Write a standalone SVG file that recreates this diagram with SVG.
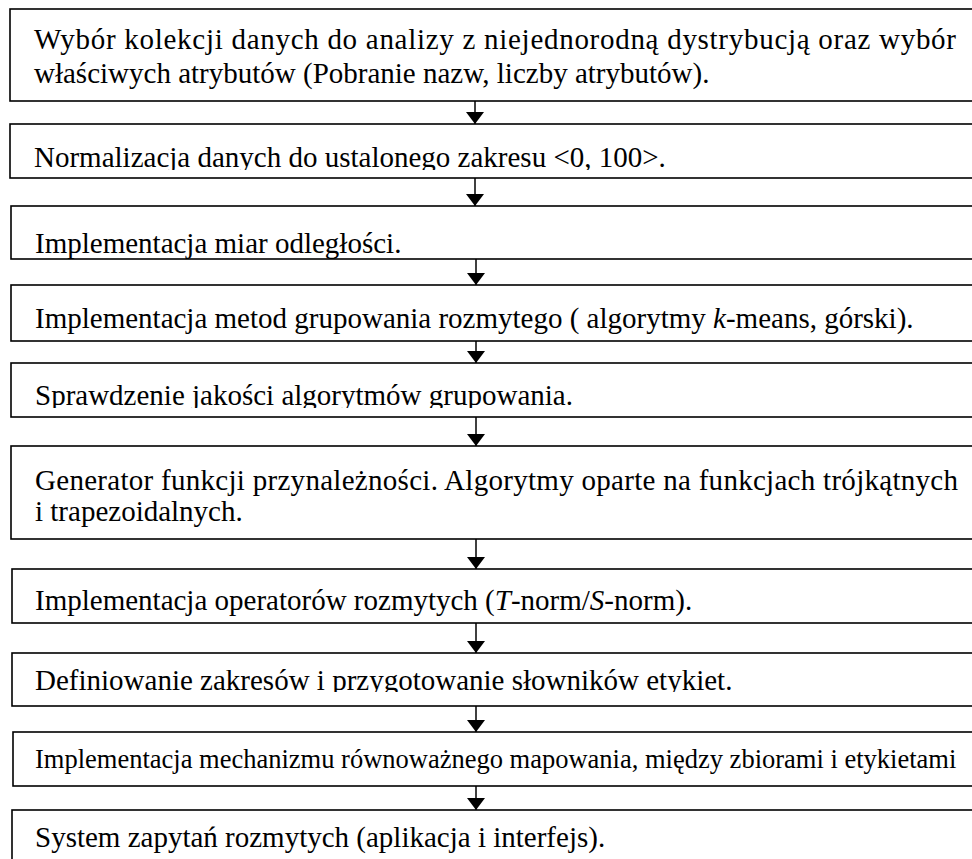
<svg xmlns="http://www.w3.org/2000/svg" width="972" height="859" viewBox="0 0 972 859">
<style>
.box{fill:#fff;stroke:#000;stroke-width:1.6}
.t{font-family:"Liberation Serif","Times New Roman",serif;font-size:29px;fill:#000}
.s{font-size:26.5px}
.i{font-style:italic}
.conn line{stroke:#000;stroke-width:1.5}
</style>
<defs>
<marker id="ah" markerUnits="userSpaceOnUse" markerWidth="13" markerHeight="20" viewBox="0 -10 13 20" refX="12" refY="0" orient="auto">
<path d="M0,-9 L12,0 L0,9 z" fill="#000"/>
</marker>
<clipPath id="c2"><rect x="0" y="124" width="972" height="46"/></clipPath>
<clipPath id="c5"><rect x="0" y="363" width="972" height="45"/></clipPath>
<clipPath id="c8"><rect x="0" y="653" width="972" height="39"/></clipPath>
</defs>
<rect width="972" height="859" fill="#fff"/>
<g id="n1"><rect class="box" x="10" y="9" width="975" height="92"/>
<text class="t" x="34" y="49" textLength="922" lengthAdjust="spacing">Wybór kolekcji danych do analizy z niejednorodną dystrybucją oraz wybór</text>
<text class="t" x="34" y="83">właściwych atrybutów (Pobranie nazw, liczby atrybutów).</text></g>
<g id="n2"><rect class="box" x="10" y="124" width="975" height="54"/>
<text class="t" x="34" y="167" clip-path="url(#c2)">Normalizacja danych do ustalonego zakresu &lt;0, 100&gt;.</text></g>
<g id="n3"><rect class="box" x="11" y="206" width="975" height="53"/>
<text class="t" x="35" y="253">Implementacja miar odległości.</text></g>
<g id="n4"><rect class="box" x="11" y="285" width="975" height="56"/>
<text class="t" x="35" y="328">Implementacja metod grupowania rozmytego ( algorytmy <tspan class="i">k</tspan>-means, górski).</text></g>
<g id="n5"><rect class="box" x="11" y="363" width="975" height="54"/>
<text class="t" x="35" y="405" clip-path="url(#c5)">Sprawdzenie jakości algorytmów grupowania.</text></g>
<g id="n6"><rect class="box" x="11" y="446" width="975" height="93"/>
<text class="t" x="35" y="490" textLength="923" lengthAdjust="spacing">Generator funkcji przynależności. Algorytmy oparte na funkcjach trójkątnych</text>
<text class="t" x="35" y="521">i trapezoidalnych.</text></g>
<g id="n7"><rect class="box" x="12" y="569" width="975" height="54"/>
<text class="t" x="35" y="610">Implementacja operatorów rozmytych (<tspan class="i">T</tspan>-norm/<tspan class="i">S</tspan>-norm).</text></g>
<g id="n8"><rect class="box" x="12" y="653" width="975" height="53"/>
<text class="t" x="35" y="690" clip-path="url(#c8)">Definiowanie zakresów i przygotowanie słowników etykiet.</text></g>
<g id="n9"><rect class="box" x="13" y="732" width="975" height="54"/>
<text class="t s" x="35" y="768">Implementacja mechanizmu równoważnego mapowania, między zbiorami i etykietami</text></g>
<g id="n10"><rect class="box" x="12" y="810" width="975" height="60"/>
<text class="t" x="35" y="847">System zapytań rozmytych (aplikacja i interfejs).</text></g>
<g id="connectors" class="conn">
<line x1="475" y1="101" x2="475" y2="124" marker-end="url(#ah)"/>
<line x1="475" y1="178" x2="475" y2="206" marker-end="url(#ah)"/>
<line x1="476" y1="259" x2="476" y2="285" marker-end="url(#ah)"/>
<line x1="476" y1="341" x2="476" y2="363" marker-end="url(#ah)"/>
<line x1="476" y1="417" x2="476" y2="446" marker-end="url(#ah)"/>
<line x1="476" y1="539" x2="476" y2="569" marker-end="url(#ah)"/>
<line x1="476" y1="623" x2="476" y2="653" marker-end="url(#ah)"/>
<line x1="476" y1="706" x2="476" y2="732" marker-end="url(#ah)"/>
<line x1="476" y1="786" x2="476" y2="810" marker-end="url(#ah)"/>
</g>
</svg>
